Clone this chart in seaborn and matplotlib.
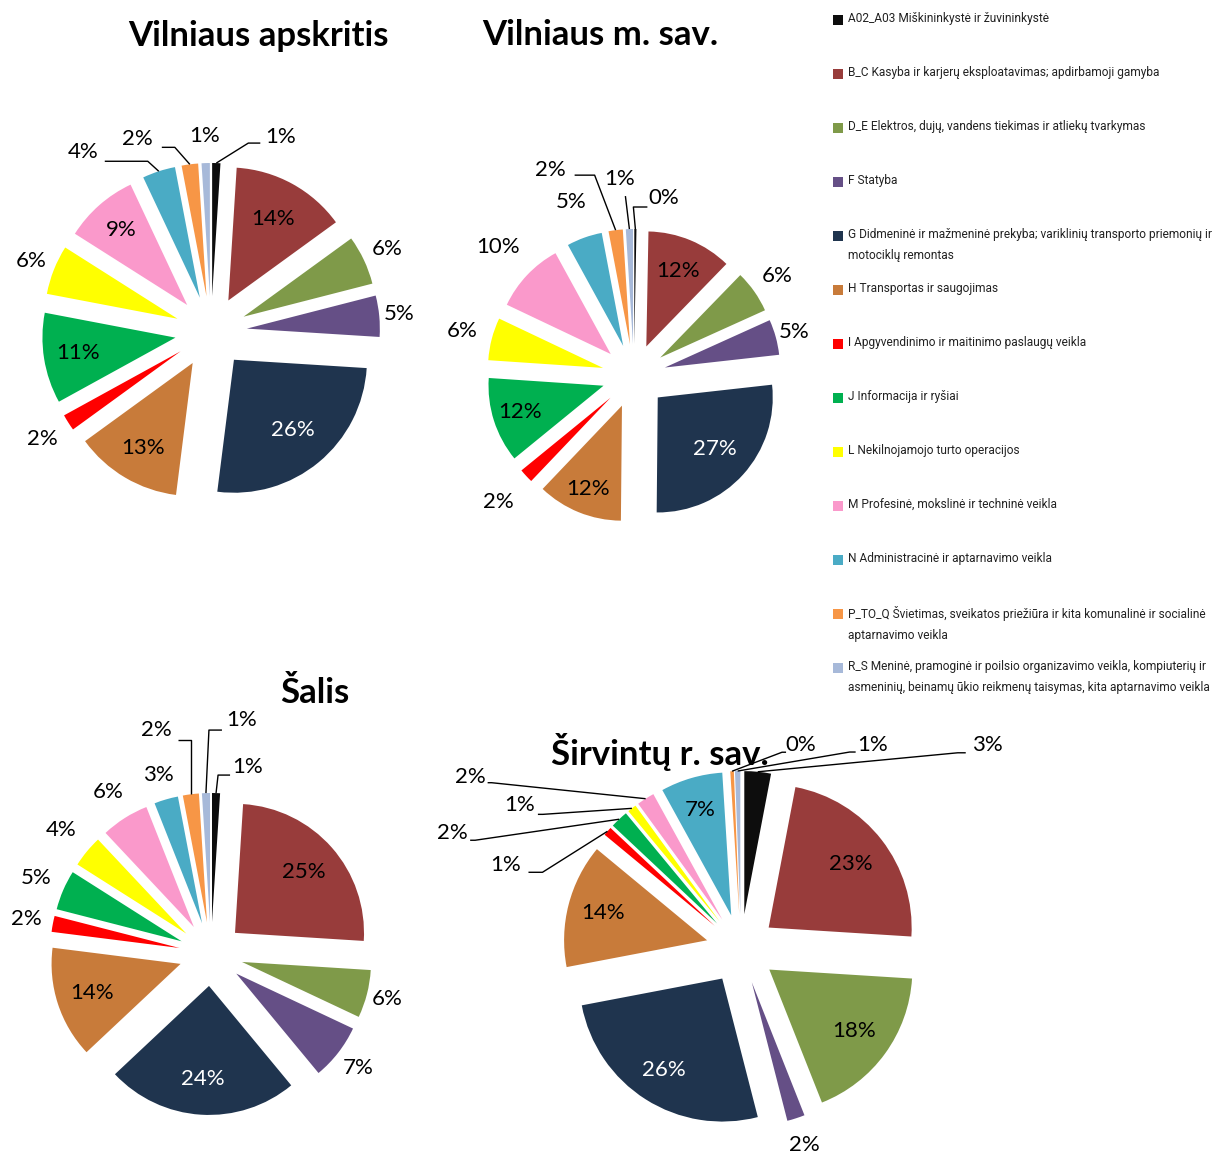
import matplotlib
matplotlib.use("Agg")
import matplotlib.pyplot as plt
from matplotlib import font_manager
import numpy as np
import seaborn as sns

# ---------------- data ----------------
codes = ["A", "B", "D", "F", "G", "H", "I", "J", "L", "M", "N", "P", "R"]
categories = [
    "A02_A03 Miškininkystė ir žuvininkystė",
    "B_C Kasyba ir karjerų eksploatavimas; apdirbamoji gamyba",
    "D_E Elektros, dujų, vandens tiekimas ir atliekų tvarkymas",
    "F Statyba",
    "G Didmeninė ir mažmeninė prekyba; variklinių transporto priemonių ir\nmotociklų remontas",
    "H Transportas ir saugojimas",
    "I Apgyvendinimo ir maitinimo paslaugų veikla",
    "J Informacija ir ryšiai",
    "L Nekilnojamojo turto operacijos",
    "M Profesinė, mokslinė ir techninė veikla",
    "N Administracinė ir aptarnavimo veikla",
    "P_TO_Q Švietimas, sveikatos priežiūra ir kita komunalinė ir socialinė\naptarnavimo veikla",
    "R_S Meninė, pramoginė ir poilsio organizavimo veikla, kompiuterių ir\nasmeninių, beinamų ūkio reikmenų taisymas, kita aptarnavimo veikla",
]
vilniaus_apskritis = [1, 14, 6, 5, 26, 13, 2, 11, 6, 9, 4, 2, 1]
vilniaus_m_sav = [0.3, 12, 6, 5, 27, 12, 2, 12, 6, 10, 5, 2, 1]
salis = [1, 25, 6, 7, 24, 14, 2, 5, 4, 6, 3, 2, 1]
sirvintu = [3, 23, 18, 2, 26, 14, 1, 2, 1, 2, 7, 0.4, 0.6]
titles = ["Vilniaus apskritis", "Vilniaus m. sav.", "Šalis", "Širvintų r. sav."]

# ---------------- style ----------------
colors = ["#0d0d0d", "#983c3b", "#7f9a49", "#654f86", "#1f344e", "#c87b3a",
          "#ff0000", "#00b050", "#ffff00", "#fa99cb", "#4aabc5", "#f79646", "#a7b9d9"]
sns.set_theme(style="white")
palette = sns.color_palette(colors)
plt.rcParams["font.family"] = ["Lato", "DejaVu Sans"]

available = {f.name for f in font_manager.fontManager.ttflist}
legend_font = "Liberation Sans Narrow" if "Liberation Sans Narrow" in available else "Roboto"

layouts = [
    dict(data=vilniaus_apskritis, center=(211, 332), r=133, e=36, title=(258, 36), labels={
        "A": ("lead", 32, -20, 12, 20, -6), "B": ("in", .70), "D": ("out", 1.19),
        "F": ("out", 1.15), "G": ("in", .69), "H": ("in", .74), "I": ("out", 1.23),
        "J": ("in", .745), "L": ("out", 1.18), "M": ("in", .75),
        "N": ("lead", -11, -10, -43, -22, -9), "P": ("lead", -15, -17, -13, -24, -8),
        "R": ("out", 1.2)}),
    dict(data=vilniaus_m_sav, center=(634, 376), r=115, e=32, title=(600, 35), labels={
        "A": ("lead", -2, -22, 14, 16, -9), "B": ("in", .71), "D": ("out", 1.24),
        "F": ("out", 1.17), "G": ("in", .67), "H": ("in", .78), "I": ("out", 1.33),
        "J": ("in", .76), "L": ("out", 1.27), "M": ("out", 1.35), "N": ("out", 1.33),
        "P": ("lead", -21, -55, -20, -24, -5), "R": ("lead", -4, -33, 0, -6, -17)}),
    dict(data=salis, center=(211, 954), r=129, e=32, title=(315, 693), labels={
        "A": ("lead", 2, -18, 12, 18, -8), "B": ("in", .71), "D": ("out", 1.16),
        "F": ("out", 1.2), "G": ("in", .72), "H": ("in", .72), "I": ("out", 1.21),
        "J": ("out", 1.23), "L": ("out", 1.26), "M": ("out", 1.24), "N": ("out", 1.2),
        "P": ("lead", 0, -54, -13, -21, -10), "R": ("lead", 3, -63, 13, 20, -10)}),
    dict(data=sirvintu, center=(741, 949), r=143, e=35, title=(660, 752), labels={
        "A": ("lead", 200, -19, 8, 22, -8), "B": ("in", .73), "D": ("in", .73),
        "F": ("out", 1.2), "G": ("in", .76), "H": ("in", .755),
        "I": ("lead", -65, 41, -14, -23, -7), "J": ("lead", -144, 21, -5, -18, -7),
        "L": ("lead", -89, 6, -5, -18, -9), "M": ("lead", -154, -16, -4, -17, -6),
        "N": ("in", .77), "P": ("lead", 50, -19, 4, 15, -7), "R": ("lead", 112, -19, 6, 17, -7)}),
]

W, H = 1215, 1155
fig = plt.figure(figsize=(W / 100, H / 100), dpi=100)
ax = fig.add_axes([0, 0, 1, 1])

pct_size = 16
for lay, title in zip(layouts, titles):
    vals = lay["data"]
    r, e = lay["r"], lay["e"]
    # matplotlib's explode offset is in data units
    wedges, _ = ax.pie(vals, colors=palette, radius=r, center=lay["center"],
                       explode=[e] * len(vals), startangle=-90, counterclock=True,
                       wedgeprops=dict(linewidth=0), frame=True)
    for code, w, v in zip(codes, wedges, vals):
        spec = lay["labels"][code]
        mid = np.deg2rad((w.theta1 + w.theta2) / 2)
        d = np.array([np.cos(mid), np.sin(mid)])
        c = np.array(w.center)
        txt = f"{round(v):.0f}%"
        tcol = "white" if code == "G" else "black"
        if spec[0] in ("in", "out"):
            p = c + spec[1] * r * d
            ax.text(p[0], p[1], txt, ha="center", va="center", fontsize=pct_size,
                    color=tcol, zorder=5)
        else:
            _, ex, ey, h, tx, ty = spec
            a = c + r * d
            elbow = a + np.array([ex, ey])
            end = elbow + np.array([h, 0])
            ax.plot([a[0], elbow[0], end[0]], [a[1], elbow[1], end[1]],
                    color="black", lw=1.0, zorder=4, solid_capstyle="butt")
            ax.text(end[0] + tx, end[1] + ty, txt, ha="center", va="center",
                    fontsize=pct_size, color=tcol, zorder=5)
    ax.text(lay["title"][0], lay["title"][1], title, ha="center", va="center",
            fontsize=25, fontweight="bold", color="black", zorder=6)

# legend
for i, (lab, col) in enumerate(zip(categories, palette)):
    y = 20 + 54 * i
    ax.scatter([838], [y], marker="s", s=55, color=col, linewidths=0, zorder=5)
    ax.text(848, y - 8, lab, ha="left", va="top", fontsize=8.6, family=legend_font,
            color="#222222", linespacing=1.75)

ax.set_xlim(0, W)
ax.set_ylim(H, 0)
ax.set_aspect("equal")
ax.axis("off")
fig.savefig("out.png", dpi=100, facecolor="white")
